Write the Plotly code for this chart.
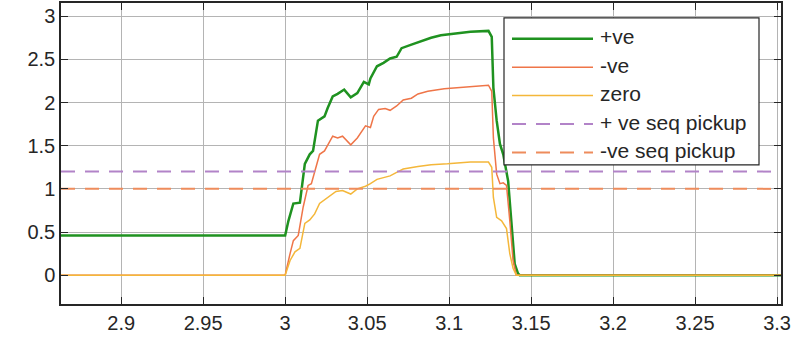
import plotly.graph_objects as go

# sequence current magnitudes
t_pos = [2.8633, 3.000, 3.002, 3.005, 3.009, 3.012, 3.015, 3.017, 3.020, 3.024, 3.026,
         3.029, 3.032, 3.036, 3.040, 3.044, 3.048, 3.051, 3.052, 3.056, 3.060, 3.064,
         3.068, 3.071, 3.077, 3.083, 3.089, 3.095, 3.105, 3.113, 3.124, 3.126, 3.127,
         3.129, 3.131, 3.133, 3.136, 3.138, 3.140, 3.142, 3.143, 3.3024]
pos_seq = [0.46, 0.46, 0.63, 0.83, 0.84, 1.29, 1.40, 1.44, 1.79, 1.84, 1.94,
           2.07, 2.10, 2.15, 2.06, 2.11, 2.24, 2.21, 2.28, 2.42, 2.46, 2.51,
           2.53, 2.63, 2.67, 2.71, 2.75, 2.78, 2.80, 2.82, 2.83, 2.76, 2.17,
           1.79, 1.52, 1.40, 1.09, 0.56, 0.13, 0.02, 0.0, 0.0]

t_neg = [2.8633, 3.000, 3.003, 3.005, 3.008, 3.011, 3.014, 3.016, 3.021, 3.024, 3.029,
         3.032, 3.035, 3.040, 3.044, 3.049, 3.052, 3.054, 3.057, 3.061, 3.064, 3.068,
         3.072, 3.077, 3.081, 3.087, 3.097, 3.109, 3.124, 3.126, 3.127, 3.129, 3.131,
         3.133, 3.135, 3.137, 3.139, 3.141, 3.3024]
neg_seq = [0.0, 0.0, 0.25, 0.40, 0.46, 0.79, 1.04, 1.06, 1.40, 1.44, 1.61,
           1.59, 1.61, 1.51, 1.59, 1.73, 1.71, 1.84, 1.92, 1.93, 1.91, 1.96,
           2.03, 2.05, 2.10, 2.13, 2.16, 2.18, 2.20, 2.13, 1.59, 1.17, 1.06,
           1.07, 1.04, 0.63, 0.17, 0.0, 0.0]

t_zero = [2.8633, 3.000, 3.003, 3.006, 3.009, 3.012, 3.015, 3.018, 3.021, 3.026, 3.031,
          3.035, 3.040, 3.044, 3.049, 3.052, 3.056, 3.060, 3.064, 3.068, 3.072, 3.081,
          3.089, 3.099, 3.113, 3.124, 3.126, 3.127, 3.129, 3.132, 3.135, 3.137, 3.139,
          3.141, 3.3024]
zero_seq = [0.0, 0.0, 0.17, 0.27, 0.31, 0.60, 0.64, 0.71, 0.83, 0.90, 0.97,
            0.98, 0.94, 1.00, 1.03, 1.06, 1.11, 1.13, 1.15, 1.19, 1.23, 1.26,
            1.28, 1.29, 1.31, 1.31, 1.25, 0.90, 0.67, 0.63, 0.54, 0.25, 0.08,
            0.0, 0.0]

pos_pickup = 1.2
neg_pickup = 1.0

x_ticks = [2.9, 2.95, 3.0, 3.05, 3.1, 3.15, 3.2, 3.25, 3.3]
x_labels = ["2.9", "2.95", "3", "3.05", "3.1", "3.15", "3.2", "3.25", "3.3"]
y_ticks = [0, 0.5, 1, 1.5, 2, 2.5, 3]
y_labels = ["0", "0.5", "1", "1.5", "2", "2.5", "3"]

t0, t1 = t_pos[0], t_pos[-1]

series = [
    ("+ve", t_pos, pos_seq, dict(color="#1f9220", width=2.5)),
    ("-ve", t_neg, neg_seq, dict(color="#ef7548", width=1.5)),
    ("zero", t_zero, zero_seq, dict(color="#f4b73a", width=1.5)),
    ("+ ve seq pickup", [t0, t1], [pos_pickup, pos_pickup],
     dict(color="#b283c8", width=2, dash="14px,10px")),
    ("-ve seq pickup", [t0, t1], [neg_pickup, neg_pickup],
     dict(color="#ee8c5c", width=2, dash="14px,10px")),
]

fig = go.Figure()
for name, xs, ys, ln in series:
    fig.add_trace(go.Scatter(x=xs, y=ys, mode="lines", name=name, line=ln,
                             showlegend=False))

# legend box drawn by hand so the line samples are long like the original
W, H, L, T = 720, 303, 61, 1
def px(x):
    return (x - L) / W
def py(y):
    return (T + H - y) / H

fig.add_shape(type="rect", xref="paper", yref="paper",
              x0=px(504), x1=px(759), y0=py(164), y1=py(16),
              fillcolor="white", line=dict(color="#262626", width=1.2), layer="above")
for i, (name, xs, ys, ln) in enumerate(series):
    yy = 37 + i * 28.6
    fig.add_shape(type="line", xref="paper", yref="paper",
                  x0=px(512), x1=px(593), y0=py(yy), y1=py(yy), line=ln, layer="above")
    fig.add_annotation(xref="paper", yref="paper", x=px(598), y=py(yy - 2),
                       text=name, showarrow=False, xanchor="left", yanchor="middle",
                       font=dict(size=21, color="#262626"))

axis_style = dict(showline=True, linecolor="#262626", linewidth=1.5, mirror="ticks",
                  ticks="inside", ticklen=7, tickcolor="#262626", tickwidth=1,
                  showgrid=True, gridcolor="#b4b4b4", gridwidth=1, zeroline=False,
                  tickfont=dict(size=20, color="#262626"))

fig.update_xaxes(range=[2.8633, 3.3024], tickvals=x_ticks, ticktext=x_labels, **axis_style)
fig.update_yaxes(range=[-0.334, 3.153], tickvals=y_ticks, ticktext=y_labels, **axis_style)

fig.update_layout(
    width=808, height=348,
    margin=dict(l=L, r=27, t=T, b=44),
    paper_bgcolor="white", plot_bgcolor="white",
    font=dict(family="Liberation Sans, Arial, sans-serif"),
    showlegend=False,
)

# page body has an 8px margin by default; drop it so the figure sits at 0,0
fig.write_html("out.html", config={"displayModeBar": False},
               post_script="document.body.style.margin='0px';")
